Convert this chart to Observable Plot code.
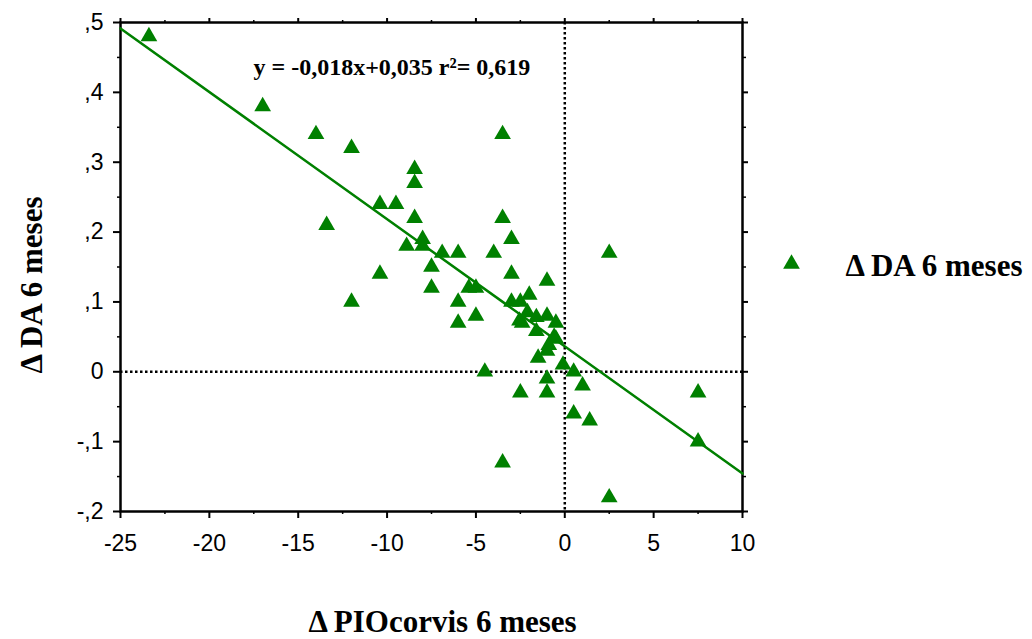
<!DOCTYPE html>
<html>
<head>
<meta charset="utf-8">
<script src="https://cdn.jsdelivr.net/npm/d3@7"></script>
<script src="https://cdn.jsdelivr.net/npm/@observablehq/plot@0.6"></script>
<style>
  html, body { margin: 0; padding: 0; background: #fff; }
  #chart svg { display: block; }
</style>
</head>
<body>
<div id="chart"></div>
<script>
// Data: Δ PIOcorvis 6 meses (x) vs Δ DA 6 meses (y)
const pioChange = [
  -23.4, -17.0, -14.0, -12.0, -13.4, -12.0, -10.4, -9.5, -10.4, -8.45,
  -8.45, -8.45, -8.9, -8.0, -8.0, -7.5, -7.5, -6.9, -6.0, -6.0,
  -6.0, -5.4, -5.0, -5.0, -4.5, -4.0, -3.5, -3.5, -3.0, -3.0,
  -3.0, -3.5, -2.5, -2.0, -2.55, -2.1, -1.6, -1.0, -0.5, -2.4,
  -1.6, -0.6, -0.9, -0.5, -1.5, -0.1, -1.0, 0.5, 1.0, -2.5,
  -1.0, 0.5, 1.4, 2.5, 7.5, 7.5, 2.5, -1.0, -1.0
];
const daChange = [
  0.48, 0.38, 0.34, 0.32, 0.21, 0.10, 0.24, 0.24, 0.14, 0.29,
  0.27, 0.22, 0.18, 0.19, 0.18, 0.15, 0.12, 0.17, 0.17, 0.10,
  0.07, 0.12, 0.12, 0.08, 0.0, 0.17, 0.34, 0.22, 0.19, 0.14,
  0.10, -0.13, 0.10, 0.11, 0.073, 0.085, 0.078, 0.08, 0.07, 0.07,
  0.058, 0.05, 0.038, 0.047, 0.02, 0.01, -0.01, 0.0, -0.02, -0.03,
  -0.03, -0.06, -0.07, 0.17, -0.03, -0.10, -0.18, 0.13, 0.03
];
// Fitted line as printed on the chart (slope, intercept)
const fitSlope = -0.0182;
const fitIntercept = 0.0365;
const equationText = "y = -0,018x+0,035 r²= 0,619";
const seriesName = "Δ DA 6 meses";
const xTitle = "Δ PIOcorvis 6 meses";
const yTitle = "Δ DA 6 meses";

const xDomain = [-25, 10];
const yDomain = [-0.2, 0.5];
const xTicks = [-25, -20, -15, -10, -5, 0, 5, 10];
const xTickLabels = ["-25", "-20", "-15", "-10", "-5", "0", "5", "10"];
const xMinorTicks = [-22.5, -17.5, -12.5, -7.5, -2.5, 2.5, 7.5];
const yTicks = [-0.2, -0.1, 0, 0.1, 0.2, 0.3, 0.4, 0.5];
const yTickLabels = ["-,2", "-,1", "0", ",1", ",2", ",3", ",4", ",5"];
const yMinorTicks = [-0.15, -0.05, 0.05, 0.15, 0.25, 0.35, 0.45];

const points = pioChange.map((x, i) => ({x, y: daChange[i]}));
const fitLine = xDomain.map(x => ({x, y: fitIntercept + fitSlope * x}));

const green = "#008000";
const serif = "'Liberation Serif', 'Times New Roman', serif";
const narrow = "'Liberation Sans Narrow', 'Arial Narrow', 'Liberation Sans', Arial, sans-serif";

const chart = Plot.plot({
  width: 1032,
  height: 639,
  marginLeft: 120,
  marginRight: 290,
  marginTop: 22,
  marginBottom: 128,
  style: {fontFamily: narrow, fontSize: "23px", color: "#000", background: "#fff", overflow: "visible"},
  x: {domain: xDomain},
  y: {domain: yDomain},
  marks: [
    // reference lines at zero
    Plot.ruleX([0], {stroke: "#000", strokeWidth: 2.5, strokeDasharray: "2.5,2.5"}),
    Plot.ruleY([0], {stroke: "#000", strokeWidth: 2.5, strokeDasharray: "2.5,2.5"}),
    // axes
    Plot.axisX({ticks: xTicks, tickSize: 7, tickPadding: 16, tickFormat: d => xTickLabels[xTicks.indexOf(d)], strokeWidth: 2, label: null, fontSize: 23}),
    Plot.axisX({ticks: xMinorTicks, tickSize: 3, text: null, strokeWidth: 1.5, label: null}),
    Plot.axisX({anchor: "top", ticks: xTicks, tickSize: 5, text: null, strokeWidth: 2, label: null}),
    Plot.axisX({anchor: "top", ticks: xMinorTicks, tickSize: 3, text: null, strokeWidth: 1.5, label: null}),
    Plot.axisY({ticks: yTicks, tickSize: 7, tickPadding: 10, tickFormat: d => yTickLabels[yTicks.findIndex(t => Math.abs(t - d) < 1e-9)], strokeWidth: 2, label: null, fontSize: 23}),
    Plot.axisY({ticks: yMinorTicks, tickSize: 3, text: null, strokeWidth: 1.5, label: null}),
    Plot.axisY({anchor: "right", ticks: yTicks, tickSize: 5, text: null, strokeWidth: 2, label: null}),
    Plot.axisY({anchor: "right", ticks: yMinorTicks, tickSize: 3, text: null, strokeWidth: 1.5, label: null}),
    Plot.frame({stroke: "#000", strokeWidth: 2.5}),
    // regression line
    Plot.line(fitLine, {x: "x", y: "y", stroke: green, strokeWidth: 2.5}),
    // points
    Plot.dot(points, {x: "x", y: "y", symbol: "triangle", r: 6.2, fill: green, stroke: "none"}),
    // equation
    Plot.text([equationText], {frameAnchor: "top-left", dx: 133, dy: 35, textAnchor: "start", fontFamily: serif, fontWeight: "bold", fontSize: 24, fill: "#000"}),
    // legend
    Plot.dot([seriesName], {frameAnchor: "right", dx: 49, dy: -3, symbol: "triangle", r: 6.2, fill: green, stroke: "none"}),
    Plot.text([seriesName], {frameAnchor: "right", dx: 103, dy: -1, textAnchor: "start", fontFamily: serif, fontWeight: "bold", fontSize: 31, fill: "#000"}),
    // axis titles
    Plot.text([yTitle], {frameAnchor: "left", dx: -88, dy: 18, rotate: -90, textAnchor: "middle", lineAnchor: "middle", fontFamily: serif, fontWeight: "bold", fontSize: 31, fill: "#000"}),
    Plot.text([xTitle], {frameAnchor: "bottom", dx: 11, dy: 111, lineAnchor: "middle", fontFamily: serif, fontWeight: "bold", fontSize: 31, fill: "#000"})
  ]
});
document.getElementById("chart").appendChild(chart);
</script>
</body>
</html>
